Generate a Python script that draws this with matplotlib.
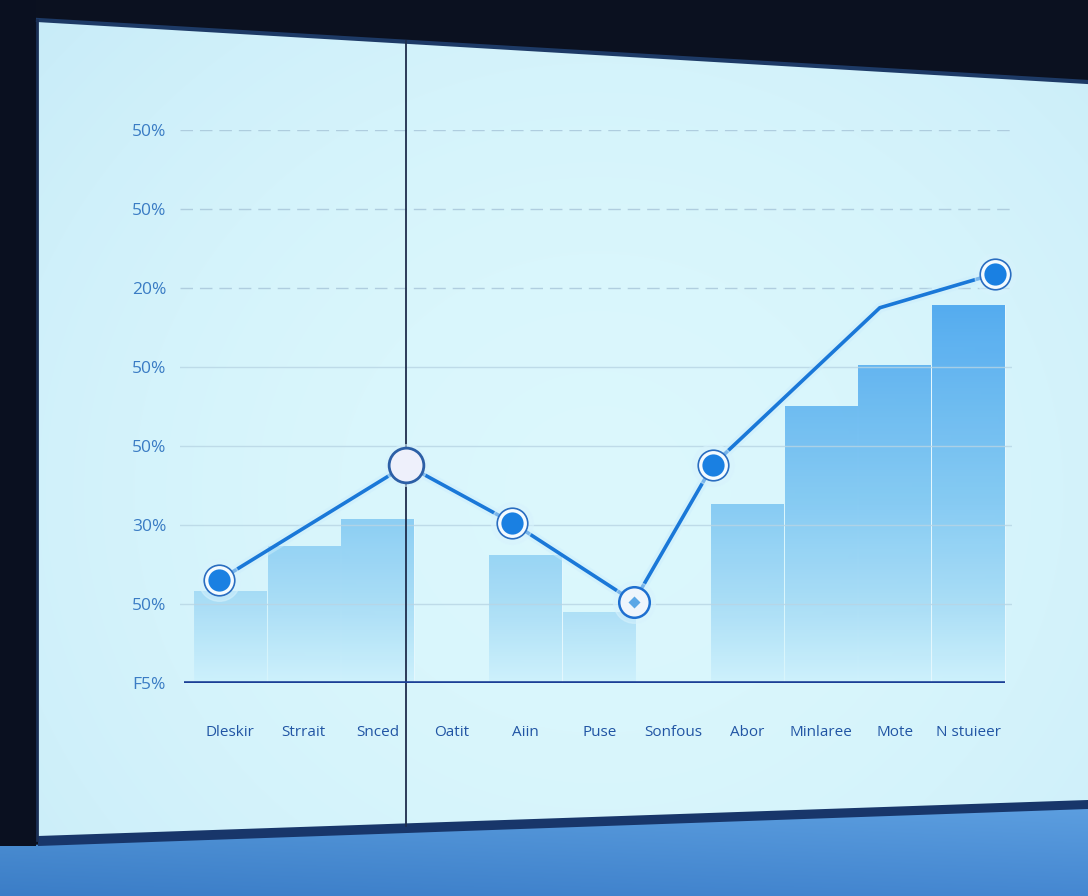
import numpy as np
import matplotlib
matplotlib.use('Agg')
import matplotlib.pyplot as plt
from matplotlib.patches import Polygon
from matplotlib.colors import LinearSegmentedColormap

# chart data
categories = ['Dleskir', 'Strrait', 'Snced', 'Oatit', 'Aiin', 'Puse',
              'Sonfous', 'Abor', 'Minlaree', 'Mote', 'N stuieer']
bar_values = [11.6, 17.4, 20.8, None, 16.2, 9.0, None, 22.7, 35.0, 40.3, 47.8]
line_x = [-0.15, 2.39, 3.82, 5.47, 6.54, 8.80, 10.36]
line_y = [13.0, 27.6, 20.3, 10.3, 27.6, 47.5, 51.8]
marker_kind = ['filled', 'hollow', 'filled', 'heart', 'filled', None, 'filled']
y_ticks = [0, 10, 20, 30, 40, 50, 60, 70]
y_tick_labels = ['F5%', '50%', '30%', '50%', '50%', '20%', '50%', '50%']
cursor_x = 2.39

W, H = 1088, 896
fig = plt.figure(figsize=(W / 100, H / 100), dpi=100)
fig.patch.set_facecolor('#0b1120')

# ---- room / screen backdrop (pixel coordinates) ----
bg = fig.add_axes([0, 0, 1, 1])
bg.set_xlim(0, W)
bg.set_ylim(H, 0)
bg.axis('off')

yy, xx = np.mgrid[0:H, 0:W]
fx = xx / W
fy = yy / H
screen_img = np.zeros((H, W, 3))
c_mid = np.array([0.86, 0.97, 0.99])
c_edge = np.array([0.76, 0.91, 0.97])
d = np.clip(np.sqrt(((fx - 0.55) / 0.8) ** 2 + ((fy - 0.55) / 0.9) ** 2), 0, 1)
for k in range(3):
    screen_img[..., k] = c_mid[k] * (1 - d ** 2) + c_edge[k] * d ** 2
im = bg.imshow(screen_img, extent=(0, W, H, 0), zorder=1, interpolation='bilinear')
screen = Polygon([(38, 20), (W, 82), (W, 802), (38, 838)], closed=True,
                 facecolor='none', edgecolor='none')
bg.add_patch(screen)
im.set_clip_path(screen)

floor_img = np.zeros((H, W, 3))
top_c = np.array([0.38, 0.64, 0.89])
bot_c = np.array([0.27, 0.53, 0.82])
t = np.clip((fy - 0.88) / 0.12, 0, 1)
for k in range(3):
    floor_img[..., k] = top_c[k] * (1 - t) + bot_c[k] * t - 0.04 * (1 - fx)
floor_img = np.clip(floor_img, 0, 1)
im2 = bg.imshow(floor_img, extent=(0, W, H, 0), zorder=1, interpolation='bilinear')
floor = Polygon([(0, 846), (W, 808), (W, H), (0, H)], closed=True,
                facecolor='none', edgecolor='none')
bg.add_patch(floor)
im2.set_clip_path(floor)

bg.add_patch(Polygon([(38, 836), (W, 800), (W, 809), (38, 846)], closed=True,
                     facecolor='#18366a', edgecolor='none', zorder=2))
bg.add_patch(Polygon([(0, 0), (36, 0), (36, 846), (0, 846)], closed=True,
                     facecolor='#0a1020', edgecolor='none', zorder=2))
bg.plot([38, W], [20, 82], color='#1d3a66', lw=3, zorder=3)
bg.plot([37, 37], [20, 840], color='#1a2f55', lw=2, zorder=3)

# ---- the chart itself ----
ax = fig.add_axes([180 / W, (H - 683) / H, 832 / W, 553 / H])
ax.set_facecolor('none')
for s in ax.spines.values():
    s.set_visible(False)

x_pos = np.arange(len(categories))
bx = [x for x, v in zip(x_pos, bar_values) if v is not None]
bv = [v for v in bar_values if v is not None]
bars = ax.bar(bx, bv, width=0.98, color='none', edgecolor='#e4f7fd', linewidth=0.8, zorder=2)

bar_cmap = LinearSegmentedColormap.from_list(
    'bars', [(0, '#cdf1fc'), (0.2, '#a6dcf6'), (0.45, '#80c8f3'), (1.0, '#45a3ee')])
grad = np.linspace(0, 1, 256).reshape(-1, 1)
for b in bars:
    gi = ax.imshow(grad, extent=(-1, 11, 0, 50), origin='lower', aspect='auto',
                   cmap=bar_cmap, zorder=2, alpha=0.92)
    gi.set_clip_path(b)

# grid lines
for v in y_ticks[1:]:
    if v >= 50:
        ax.axhline(v, color='#a6c4d8', lw=1.0, ls=(0, (9, 5)), zorder=2.5, alpha=0.8)
    else:
        ax.axhline(v, color='#b8d5e4', lw=1.0, zorder=2.5, alpha=0.8)

# baseline
ax.plot([-0.62, 10.49], [0, 0], color='#1b3f96', lw=2.6, zorder=4, solid_capstyle='butt')

# cursor line through the whole screen
ax.axvline(cursor_x, ymin=-0.259, ymax=1.161, color='#1e2d4c', lw=1.3,
           zorder=3, clip_on=False)

# line series
ax.plot(line_x, line_y, color='#cdeefc', lw=7, alpha=0.5, zorder=4.5,
        solid_joinstyle='round', clip_on=False)
ax.plot(line_x, line_y, color='#1a78d8', lw=2.6, zorder=5,
        solid_joinstyle='miter', clip_on=False)

for x, y, kind in zip(line_x, line_y, marker_kind):
    if kind is None:
        continue
    ax.plot(x, y, 'o', ms=30, color='#d8f3fd', alpha=0.5, zorder=5.5, clip_on=False)
    if kind == 'filled':
        ax.plot(x, y, 'o', ms=22, mfc='#f4fbff', mec='#2a6dc0', mew=1.2, zorder=6, clip_on=False)
        ax.plot(x, y, 'o', ms=16, mfc='#1a80e2', mec='none', zorder=7, clip_on=False)
    elif kind == 'hollow':
        ax.plot(x, y, 'o', ms=25, mfc='#eef0fb', mec='#2c5fa6', mew=2.0, zorder=6, clip_on=False)
    elif kind == 'heart':
        ax.plot(x, y, 'o', ms=22, mfc='#eef5fc', mec='#1e6fd0', mew=1.8, zorder=6, clip_on=False)
        ax.plot(x, y, 'D', ms=6, mfc='#5aa6e6', mec='none', zorder=7, clip_on=False)

ax.set_xlim(-0.677, 10.59)
ax.set_ylim(0, 70)
ax.set_yticks(y_ticks)
ax.set_yticklabels(y_tick_labels, fontsize=12.5, color='#3a7cc4', family='Open Sans')
ax.set_xticks(x_pos)
ax.set_xticklabels(categories, fontsize=11, color='#2155a4', family='Open Sans')
ax.tick_params(axis='y', length=0, pad=10)
ax.tick_params(axis='x', length=0, pad=30)

fig.savefig('out.png', dpi=100, facecolor=fig.get_facecolor())
